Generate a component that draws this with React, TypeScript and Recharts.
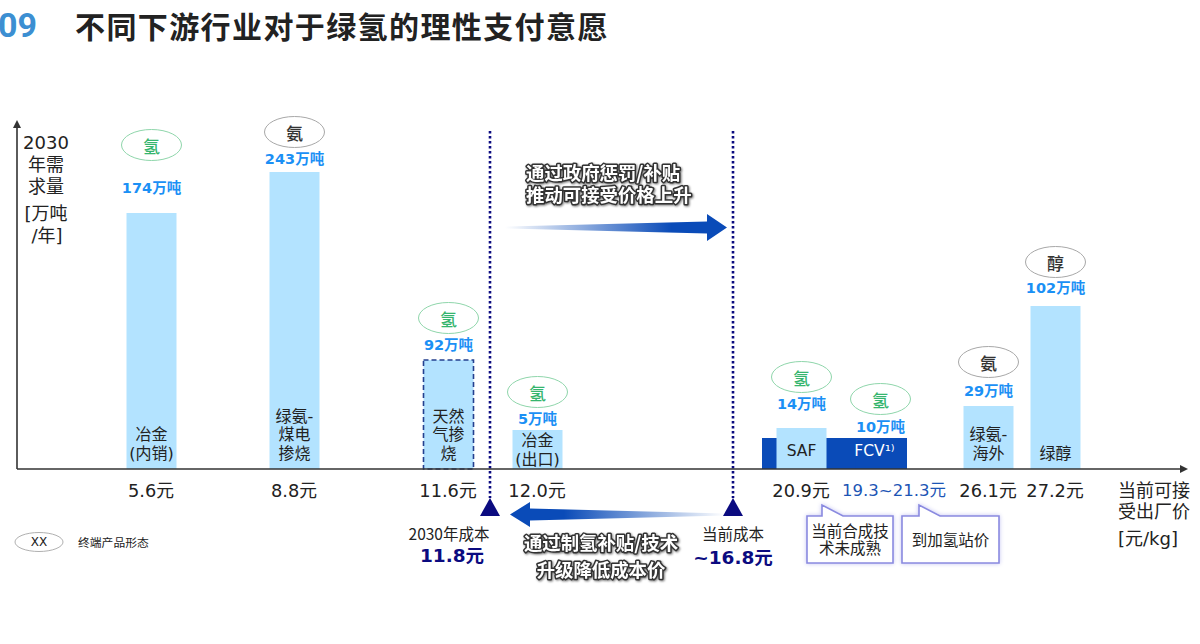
import React from 'react';
import { BarChart, Bar, XAxis, YAxis, Cell, LabelList, ReferenceLine, ReferenceArea, ReferenceDot } from 'recharts';

// one row per bar. drawn heights are read off the picture, the source chart is not to scale
const names = ['冶金(内销)', '绿氨-煤电掺烧', '天然气掺烧', '冶金(出口)', 'SAF', 'FCV', '绿氨-海外', '绿醇'];
const prices = [5.6, 8.8, 11.6, 12.0, 20.9, 21.2, 26.1, 27.2];
const priceLabels = ['5.6元', '8.8元', '11.6元', '12.0元', '20.9元', '19.3~21.3元', '26.1元', '27.2元'];
const drawnHeights = [256, 297, 109, 39, 41, 31, 63, 163];
const demandLabels = ['174万吨', '243万吨', '92万吨', '5万吨', '14万吨', '10万吨', '29万吨', '102万吨'];
const products = ['氢', '氨', '氢', '氢', '氢', '氢', '氨', '醇'];
const innerLines = [['冶金', '(内销)'], ['绿氨-', '煤电', '掺烧'], ['天然', '气掺', '烧'], ['冶金', '(出口)'], ['SAF'], ['FCV¹⁾'], ['绿氨-', '海外'], ['绿醇']];

const costPrices = [11.8, 16.8];
const costNames = ['2030年成本', '当前成本'];
const costValues = ['11.8元', '~16.8元'];
const fcvRange = [19.3, 21.3];

const data = names.map((name, i) => ({ name, price: prices[i], height: drawnHeights[i] }));

// label placement above each bar top, px
const demandLift = [25, 13, 15, 11, 24, 11, 15, 18];
const pillLift = [68, 40, 42, 38, 51, 39, 44, 44];
const innerBottom = [16, 16, 16, 10, 18, 18, 16, 16];

const FONT = '"DejaVu Sans", "Noto Sans CJK SC", sans-serif';
const CJK = '"Noto Sans CJK SC", sans-serif';
const LIGHT = '#b3e3ff';
const DARK = '#0a4bb8';
const NAVY = '#0b0b80';
const BLUE = '#1b90f5';

// the price axis is broken, it is not linear: price -> x in px
const axisStops = [[0, 17], [5.6, 151], [8.8, 294], [11.6, 448], [11.8, 490], [12, 537], [16.8, 733], [19.3, 762], [20.9, 801], [21.2, 880], [21.3, 907], [26.1, 988], [27.2, 1055], [30, 1184]];

function brokenScale() {
    const s: any = (v: number) => {
        for (let i = 1; i < axisStops.length; i++) {
            const [p0, x0] = axisStops[i - 1];
            const [p1, x1] = axisStops[i];
            if (v <= p1) return x0 + ((v - p0) / (p1 - p0)) * (x1 - x0);
        }
        return axisStops[axisStops.length - 1][1];
    };
    s.domain = (d?: number[]) => (d ? s : [0, 30]);
    s.range = (r?: number[]) => (r ? s : [17, 1184]);
    s.copy = () => s;
    s.ticks = () => prices;
    return s;
}
const priceScale = brokenScale();

function PriceTick({ x, y, payload }: any) {
    const i = prices.indexOf(payload.value);
    const isFcv = names[i] === 'FCV';
    return (
        <text x={isFcv ? x + 14 : x} y={y + 13} textAnchor="middle" dominantBaseline="central"
            fontFamily={FONT} fontSize={isFcv ? 16.5 : 17.8} fill={isFcv ? '#1c55b5' : '#222'}>
            {priceLabels[i]}
        </text>
    );
}

function BarLabels(props: any) {
    const { index } = props;
    const vb = props.viewBox || props;
    const cx = vb.x + vb.width / 2;
    const top = vb.y;
    const base = vb.y + vb.height;
    const isGreen = products[index] === '氢';
    const lines = innerLines[index];
    const fcv = names[index] === 'FCV';
    return (
        <g>
            <ellipse cx={cx} cy={top - pillLift[index]} rx={30} ry={15.5} fill="#fff" stroke={isGreen ? '#8fd6ab' : '#a8a8a8'} strokeWidth={1} />
            <text x={cx} y={top - pillLift[index]} textAnchor="middle" dominantBaseline="central" fontFamily={CJK} fontSize={17}
                fontWeight={500} fill={isGreen ? '#35b56e' : '#333'}>{products[index]}</text>
            <text x={cx} y={top - demandLift[index]} textAnchor="middle" dominantBaseline="central" fontFamily={FONT} fontSize={14.5}
                fontWeight={700} fill={BLUE}>{demandLabels[index]}</text>
            {lines.map((line, k) => (
                <text key={k} x={fcv ? cx - 6 : cx} y={base - innerBottom[index] - (lines.length - 1 - k) * 18.5} textAnchor="middle" dominantBaseline="central"
                    fontFamily={FONT} fontSize={line === 'SAF' || fcv ? 15.5 : 16} fill={fcv ? '#fff' : '#222'}>{line}</text>
            ))}
        </g>
    );
}

function CostMarker({ cx, cy, index }: any) {
    const dx = index === 0 ? -41 : 0;
    return (
        <g>
            <polygon points={`${cx},${cy - 9} ${cx - 10},${cy + 9} ${cx + 10},${cy + 9}`} fill={NAVY} />
            <text x={cx + dx} y={cy + 26} textAnchor="middle" dominantBaseline="central" fontFamily={CJK} fontSize={15.5} fill="#222">{costNames[index]}</text>
            <text x={cx + dx + (index === 0 ? 3 : 0)} y={cy + (index === 0 ? 48 : 50)} textAnchor="middle" dominantBaseline="central" fontFamily={FONT} fontSize={18.5} fontWeight={700} fill={NAVY}>{costValues[index]}</text>
        </g>
    );
}

function GradientArrow({ x, y, width, height, dir }: any) {
    const mid = y + height / 2;
    const half = height / 2;
    const head = 20;
    const pts = dir === 'right'
        ? [[x + 15, mid - 1], [x + width - 6 - head, mid - 6], [x + width - 6 - head, mid - half], [x + width - 6, mid], [x + width - 6 - head, mid + half], [x + width - 6 - head, mid + 6], [x + 15, mid + 1]]
        : [[x + width - 8, mid - 1], [x + 20 + head, mid - 6], [x + 20 + head, mid - half], [x + 20, mid], [x + 20 + head, mid + half], [x + 20 + head, mid + 6], [x + width - 8, mid + 1]];
    return <polygon points={pts.map((p) => p.join(',')).join(' ')} fill={`url(#arrow-${dir})`} />;
}

const haloStyle: React.CSSProperties = { paintOrder: 'stroke', filter: 'drop-shadow(1px 1.5px 1px #777)' };
function HaloText({ x, y, children, anchor = 'start' }: any) {
    return (
        <text x={x} y={y} textAnchor={anchor} dominantBaseline="central" fontFamily={CJK} fontSize={18.4} fontWeight={700}
            fill="#fff" stroke="#333" strokeWidth={3} strokeLinejoin="round" style={haloStyle}>{children}</text>
    );
}

function Callout({ x, w, tail, lines }: any) {
    const top = 516;
    const bottom = 563;
    const d = `M${x} ${top} H${x + tail} V505 L${x + tail + 21} ${top} H${x + w} V${bottom} H${x} Z`;
    const cy = (top + bottom) / 2;
    return (
        <g>
            <path d={d} fill="#fff" stroke="#8a8ae0" strokeWidth={1.6} style={{ filter: 'drop-shadow(0 0 2px #c4c4f2)' }} />
            {lines.map((l: string, i: number) => (
                <text key={i} x={x + w / 2} y={cy + (i - (lines.length - 1) / 2) * 17 - 1} textAnchor="middle" dominantBaseline="central" fontFamily={CJK} fontSize={15.5} fill="#222">{l}</text>
            ))}
        </g>
    );
}

const Txt = ({ x, y, children, size = 18, anchor = 'middle', family = FONT, color = '#222' }: any) => (
    <text x={x} y={y} textAnchor={anchor} dominantBaseline="central" fontFamily={family} fontSize={size} fill={color}>{children}</text>
);

export default function App() {
    return (
        <div style={{ position: 'absolute', left: 0, top: 0, width: 1200, height: 644, background: '#fff', overflow: 'hidden' }}>
            <BarChart width={1200} height={644} data={data} margin={{ top: 124, right: 16, bottom: 145, left: 16 }} barSize={50}>
                <defs>
                    <linearGradient id="arrow-right" x1="0" x2="1" y1="0" y2="0">
                        <stop offset="0" stopColor={DARK} stopOpacity={0} />
                        <stop offset="0.75" stopColor={DARK} />
                    </linearGradient>
                    <linearGradient id="arrow-left" x1="1" x2="0" y1="0" y2="0">
                        <stop offset="0" stopColor={DARK} stopOpacity={0} />
                        <stop offset="0.75" stopColor={DARK} />
                    </linearGradient>
                    <marker id="axis-head" viewBox="0 0 10 10" refX="5" refY="5" markerWidth="5" markerHeight="5" orient="auto-start-reverse">
                        <path d="M0 0 L10 5 L0 10 Z" fill="#333" />
                    </marker>
                </defs>
                <XAxis type="number" dataKey="price" scale={priceScale} domain={[0, 30]} ticks={prices} interval={0} height={30}
                    tick={<PriceTick />} tickLine={false} axisLine={{ stroke: '#333', strokeWidth: 1.6, markerEnd: 'url(#axis-head)' }} />
                <YAxis type="number" domain={[0, 345]} width={1} tick={false} tickLine={false}
                    axisLine={{ stroke: '#333', strokeWidth: 1.6, markerStart: 'url(#axis-head)' }} />
                <ReferenceArea x1={fcvRange[0]} x2={fcvRange[1]} y1={0} y2={31} fill={DARK} fillOpacity={1} stroke="none" />
                <Bar dataKey="height" fill={LIGHT} isAnimationActive={false}>
                    {data.map((d) => (
                        <Cell key={d.name} fill={d.name === 'FCV' ? DARK : LIGHT}
                            stroke={d.name === '天然气掺烧' ? '#24408f' : 'none'} strokeWidth={1.6} strokeDasharray="5 3" />
                    ))}
                    <LabelList dataKey="height" content={<BarLabels />} />
                </Bar>
                {costPrices.map((p) => (
                    <ReferenceLine key={p} segment={[{ x: p, y: 338 }, { x: p, y: -29 }]} ifOverflow="visible"
                        stroke={NAVY} strokeWidth={2.6} strokeDasharray="2.5 2.5" />
                ))}
                {costPrices.map((p, i) => (
                    <ReferenceDot key={p} x={p} y={-38} ifOverflow="visible" shape={(props: any) => <CostMarker {...props} index={i} />} />
                ))}
                <ReferenceArea x1={costPrices[0]} x2={costPrices[1]} y1={228} y2={255} ifOverflow="visible" shape={(props: any) => <GradientArrow {...props} dir="right" />} />
                <ReferenceArea x1={costPrices[0]} x2={costPrices[1]} y1={-58} y2={-33} ifOverflow="visible" shape={(props: any) => <GradientArrow {...props} dir="left" />} />

                <HaloText x={526} y={172}>通过政府惩罚/补贴</HaloText>
                <HaloText x={526} y={194}>推动可接受价格上升</HaloText>
                <HaloText x={601} y={542} anchor="middle">通过制氢补贴/技术</HaloText>
                <HaloText x={601} y={569} anchor="middle">升级降低成本价</HaloText>

                <Callout x={807} w={86} tail={15} lines={['当前合成技', '术未成熟']} />
                <Callout x={902} w={97} tail={17} lines={['到加氢站价']} />

                <Txt x={46} y={142}>2030</Txt>
                <Txt x={46} y={164}>年需</Txt>
                <Txt x={46} y={186}>求量</Txt>
                <Txt x={46} y={213}>[万吨</Txt>
                <Txt x={47} y={235}>/年]</Txt>

                <Txt x={1118} y={490} anchor="start">当前可接</Txt>
                <Txt x={1118} y={511} anchor="start">受出厂价</Txt>
                <Txt x={1118} y={538} anchor="start">[元/kg]</Txt>

                <ellipse cx={39} cy={542} rx={24} ry={9.5} fill="#fff" stroke="#b0b0b0" strokeWidth={1} />
                <Txt x={39} y={542} size={12}>XX</Txt>
                <Txt x={78} y={541} size={11.8} anchor="start" family={CJK}>终端产品形态</Txt>

                <Txt x={-2} y={25} size={34} anchor="start" color="#3c8fd2"><tspan fontWeight={700} fontFamily="Roboto">09</tspan></Txt>
                <text x={75} y={25} dominantBaseline="central" fontFamily={CJK} fontSize={30} fontWeight={700} letterSpacing={1.4} fill="#222">不同下游行业对于绿氢的理性支付意愿</text>
            </BarChart>
        </div>
    );
}
